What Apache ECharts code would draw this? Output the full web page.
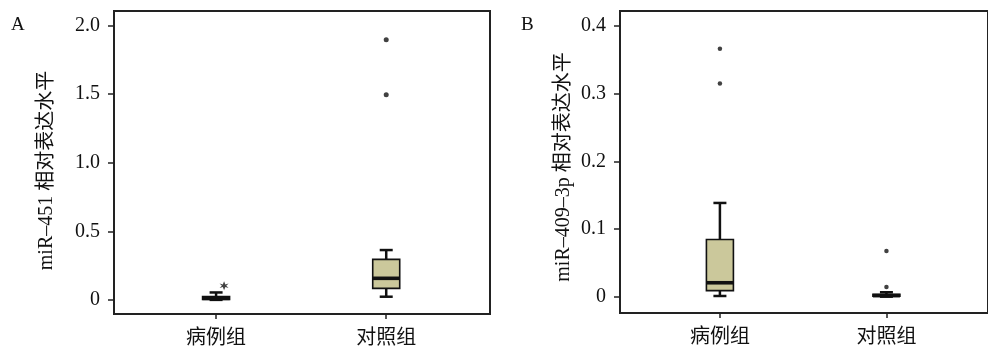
<!DOCTYPE html>
<html>
<head>
<meta charset="utf-8">
<script src="https://cdn.jsdelivr.net/npm/echarts@6/dist/echarts.min.js"></script>
<style>
html,body{margin:0;padding:0;background:#fff;}
#chart{width:988px;height:348px;}
</style>
</head>
<body>
<div id="chart"></div>
<script>
// ---- data ----
const categories = ['病例组', '对照组'];
// box stats: [min, Q1, median, Q3, max]
const boxA = [
  [0.001, 0.004, 0.012, 0.026, 0.055],
  [0.024, 0.085, 0.158, 0.296, 0.364]
];
const boxB = [
  [0.0015, 0.0094, 0.021, 0.0847, 0.1387],
  [0.0005, 0.001, 0.002, 0.004, 0.007]
];
// outliers (circles) per category
const outA = [[], [1.495, 1.896]];
const outB = [[0.315, 0.366], [0.0148, 0.068]];
// extreme outliers (asterisks) per category
const extA = [[0.104], []];
const extB = [[], []];
const yTickValuesA = [0, 0.5, 1, 1.5, 2];
const yTickLabelsA = ['0', '0.5', '1.0', '1.5', '2.0'];
const yTickValuesB = [0, 0.1, 0.2, 0.3, 0.4];
const yTickLabelsB = ['0', '0.1', '0.2', '0.3', '0.4'];
const titleA = 'miR\u2013451 相对表达水平';
const titleB = 'miR\u2013409\u20133p 相对表达水平';

// ---- build ----
const serif = "'Liberation Serif', 'Noto Sans CJK SC', serif";
const cjk = "'Noto Sans CJK SC', 'Liberation Serif', sans-serif";
const ink = '#111';
const fillColor = '#cbc89b';

function boxData(stats) { return stats.map((s, i) => [i].concat(s)); }
function pointData(lists) {
  const res = [];
  lists.forEach((arr, i) => arr.forEach(v => res.push([i, v])));
  return res;
}

function renderBox(params, api) {
  const x = api.value(0);
  const pMin = api.coord([x, api.value(1)]);
  const pQ1 = api.coord([x, api.value(2)]);
  const pMed = api.coord([x, api.value(3)]);
  const pQ3 = api.coord([x, api.value(4)]);
  const pMax = api.coord([x, api.value(5)]);
  const bw = 27, cap = 13;
  const cx = pMed[0];
  const ls = { stroke: ink, lineWidth: 2.5 };
  return {
    type: 'group',
    children: [
      { type: 'line', shape: { x1: cx, y1: pQ3[1], x2: cx, y2: pMax[1] }, style: ls },
      { type: 'line', shape: { x1: cx, y1: pQ1[1], x2: cx, y2: pMin[1] }, style: ls },
      { type: 'line', shape: { x1: cx - cap / 2, y1: pMax[1], x2: cx + cap / 2, y2: pMax[1] }, style: ls },
      { type: 'line', shape: { x1: cx - cap / 2, y1: pMin[1], x2: cx + cap / 2, y2: pMin[1] }, style: ls },
      { type: 'rect', shape: { x: cx - bw / 2, y: pQ3[1], width: bw, height: pQ1[1] - pQ3[1] },
        style: { fill: fillColor, stroke: ink, lineWidth: 1.6 } },
      { type: 'line', shape: { x1: cx - bw / 2, y1: pMed[1], x2: cx + bw / 2, y2: pMed[1] },
        style: { stroke: ink, lineWidth: 3.6 } }
    ]
  };
}

const asterisk = 'path://M0,-5 L1.3,-1.5 L4.6,-2.6 L2.2,0 L4.6,2.6 L1.3,1.5 L0,5 L-1.3,1.5 L-4.6,2.6 L-2.2,0 L-4.6,-2.6 L-1.3,-1.5 Z';

function xAxisFor(gi) {
  return {
    type: 'value', gridIndex: gi, min: -0.6, max: 1.61,
    splitLine: { show: false },
    axisLine: { show: true, onZero: false, lineStyle: { color: '#222', width: 2 } },
    axisTick: { show: true, customValues: [0, 1], length: 5, lineStyle: { color: '#222', width: 1.5 } },
    axisLabel: { customValues: [0, 1], formatter: v => categories[Math.round(v)],
      margin: 12, fontSize: 20, fontFamily: cjk, color: ink }
  };
}
function yAxisFor(gi, min, max, vals, labels, name, gap, shift) {
  return {
    type: 'value', gridIndex: gi, min: min, max: max,
    name: name, nameLocation: 'middle', nameGap: gap,
    nameTextStyle: { fontSize: 20, fontFamily: serif, color: ink, padding: [0, shift, 0, 0] },
    splitLine: { show: false },
    axisLine: { show: true, onZero: false, lineStyle: { color: '#222', width: 2 } },
    axisTick: { show: true, customValues: vals, length: 6, lineStyle: { color: '#222', width: 1.5 } },
    axisLabel: { customValues: vals, formatter: v => labels[vals.findIndex(t => Math.abs(t - v) < 1e-9)],
      margin: 14, fontSize: 20, fontFamily: serif, color: ink }
  };
}

const option = {
  animation: false,
  backgroundColor: '#fff',
  title: [
    { text: 'A', left: 6, top: 11, textStyle: { fontSize: 19, fontWeight: 'normal', fontFamily: serif, color: ink } },
    { text: 'B', left: 516, top: 11, textStyle: { fontSize: 19, fontWeight: 'normal', fontFamily: serif, color: ink } }
  ],
  grid: [
    { left: 114, top: 11, width: 376, bottom: 34, show: true, borderColor: '#222', borderWidth: 2, backgroundColor: 'transparent' },
    { left: 620, top: 11, width: 377, bottom: 35, show: true, borderColor: '#222', borderWidth: 2, backgroundColor: 'transparent' }
  ],
  xAxis: [xAxisFor(0), xAxisFor(1)],
  yAxis: [
    yAxisFor(0, -0.102, 2.106, yTickValuesA, yTickLabelsA, titleA, 57, 16),
    yAxisFor(1, -0.0236, 0.4218, yTickValuesB, yTickLabelsB, titleB, 46, 10)
  ],
  series: [
    { type: 'custom', xAxisIndex: 0, yAxisIndex: 0, renderItem: renderBox,
      encode: { x: 0, y: [1, 2, 3, 4, 5] }, data: boxData(boxA) },
    { type: 'custom', xAxisIndex: 1, yAxisIndex: 1, renderItem: renderBox,
      encode: { x: 0, y: [1, 2, 3, 4, 5] }, data: boxData(boxB) },
    { type: 'scatter', xAxisIndex: 0, yAxisIndex: 0, symbol: 'circle', symbolSize: 5,
      itemStyle: { color: ink }, data: pointData(outA) },
    { type: 'scatter', xAxisIndex: 1, yAxisIndex: 1, symbol: 'circle', symbolSize: 4.5,
      itemStyle: { color: ink }, data: pointData(outB) },
    { type: 'scatter', xAxisIndex: 0, yAxisIndex: 0, symbol: asterisk, symbolSize: 9, symbolOffset: [8, 0],
      itemStyle: { color: ink }, data: pointData(extA) },
    { type: 'scatter', xAxisIndex: 1, yAxisIndex: 1, symbol: asterisk, symbolSize: 9, symbolOffset: [8, 0],
      itemStyle: { color: ink }, data: pointData(extB) }
  ]
};

const chart = echarts.init(document.getElementById('chart'), null, { renderer: 'canvas' });
chart.setOption(option);
</script>
</body>
</html>
